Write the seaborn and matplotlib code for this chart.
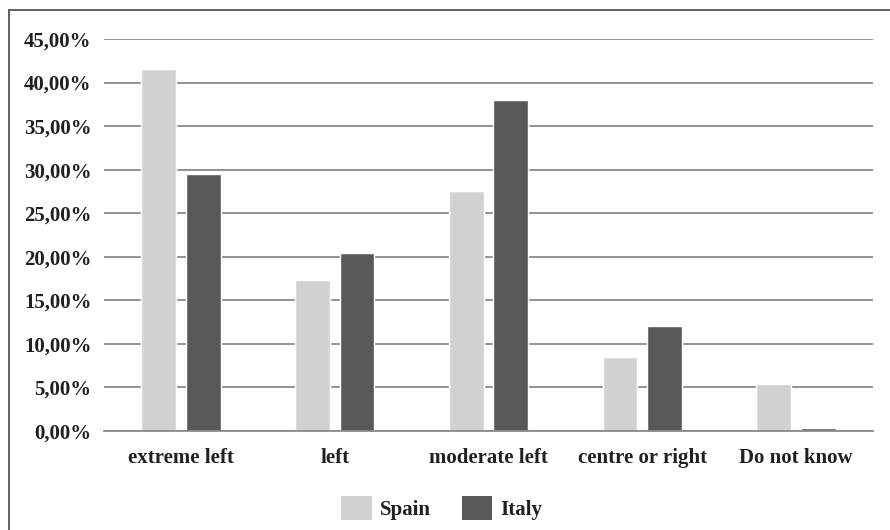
import matplotlib
matplotlib.use("Agg")
import matplotlib.pyplot as plt
import matplotlib.lines as mlines
import seaborn as sns
import pandas as pd

categories = ["extreme left", "left", "moderate left", "centre or right", "Do not know"]
spain = [41.6, 17.3, 27.5, 8.45, 5.45]
italy = [29.45, 20.4, 38.0, 12.1, 0.3]
yticks = [0, 5, 10, 15, 20, 25, 30, 35, 40, 45]
series_names = ["Spain", "Italy"]
palette = {"Spain": "#D0D1D3", "Italy": "#58595B"}

df = pd.DataFrame({
    "category": categories * 2,
    "country": ["Spain"] * len(categories) + ["Italy"] * len(categories),
    "value": spain + italy,
})

sns.set_theme(style="white")
plt.rcParams["font.family"] = ["Liberation Serif", "DejaVu Serif"]

fig = plt.figure(figsize=(8.9, 5.3), dpi=100)
ax = fig.add_axes([104 / 890, 1 - 431 / 530, (873 - 104) / 890, (431 - 39) / 530])

sns.barplot(data=df, x="category", y="value", hue="country", order=categories,
            hue_order=series_names, palette=palette, width=0.58, gap=0.217,
            saturation=1, ax=ax, legend=False, errorbar=None)

ax.set_ylim(0, 45)
ax.set_xlim(-0.5, len(categories) - 0.5)
ax.set_yticks(yticks)
ax.set_yticklabels([f"{v:.2f}%".replace(".", ",") for v in yticks])
ax.yaxis.grid(True, color="#8a8a8a", linewidth=1.3)
ax.set_axisbelow(True)
for side in ["left", "right", "top"]:
    ax.spines[side].set_visible(False)
ax.spines["bottom"].set_color("#8a8a8a")
ax.spines["bottom"].set_linewidth(1.3)
ax.set_xlabel("")
ax.set_ylabel("")
ax.tick_params(axis="both", length=0, labelsize=15, colors="#231f20")
ax.tick_params(axis="x", pad=12)
ax.tick_params(axis="y", pad=9)
for lbl in ax.get_xticklabels() + ax.get_yticklabels():
    lbl.set_fontweight("bold")

handles = [plt.Rectangle((0, 0), 1, 1, facecolor=palette[n], edgecolor="none") for n in series_names]
fig.legend(handles, series_names, loc="center", bbox_to_anchor=(442 / 890, 1 - 508 / 530),
           ncol=2, frameon=False, handlelength=1.45, handleheight=1.45,
           handletextpad=0.4, columnspacing=1.5, labelcolor="#231f20",
           prop={"size": 15, "weight": "bold"})

# outer frame
fig.add_artist(mlines.Line2D([8.5 / 890, 8.5 / 890], [0, 1 - 9.5 / 530], transform=fig.transFigure,
                             color="#555555", linewidth=1.3))
fig.add_artist(mlines.Line2D([8.5 / 890, 1], [1 - 9.5 / 530, 1 - 9.5 / 530], transform=fig.transFigure,
                             color="#555555", linewidth=1.3))

fig.savefig("out.png", dpi=100)
